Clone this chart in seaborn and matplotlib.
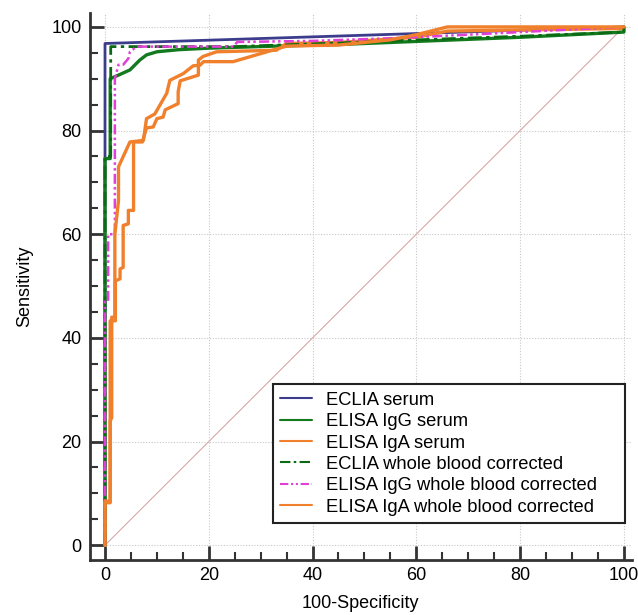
import numpy as np
import pandas as pd
import matplotlib
matplotlib.use("Agg")
import matplotlib.pyplot as plt
import seaborn as sns
from matplotlib.ticker import MultipleLocator

# ---- data ----
labels = ["ECLIA serum", "ELISA IgG serum", "ELISA IgA serum",
          "ECLIA whole blood corrected", "ELISA IgG whole blood corrected",
          "ELISA IgA whole blood corrected"]

eclia_serum_x = [0, 0, 100]
eclia_serum_y = [0, 96.8, 100]

igg_serum_x = [0, 0, 1.0, 1.0, 2.6, 4.8, 6.7, 8.0, 10.0, 14.1, 20, 33, 45, 60, 80, 100, 100]
igg_serum_y = [0, 74.6, 74.6, 90.0, 90.7, 91.7, 93.6, 94.6, 95.2, 95.6, 95.9, 96.3, 96.6, 97.2, 98.0, 99.0, 100]

iga_serum_x = [0, 0, 1.0, 1.0, 2.0, 2.0, 2.9, 2.9, 3.5, 3.5, 4.5, 4.5, 5.5, 5.5, 7.2, 8.0, 9.3,
               10.0, 11.2, 11.6, 14.1, 14.1, 14.5, 18.0, 18.0, 18.9, 21.5, 33, 35, 45, 60, 66, 100]
iga_serum_y = [0, 8.2, 8.2, 43.3, 43.3, 51.0, 51.4, 53.3, 53.6, 61.7, 62.0, 64.6, 64.6, 77.8, 77.8,
               80.5, 80.7, 82.3, 82.6, 84.0, 85.2, 87.5, 89.6, 90.7, 93.6, 94.3, 95.2, 95.5, 96.8,
               97.0, 98.0, 99.2, 99.7]

eclia_wb_x = [0, 0, 1.1, 1.1, 25, 45, 60, 80, 100, 100]
eclia_wb_y = [0, 75.0, 75.0, 96.2, 96.2, 96.9, 97.5, 98.2, 99.0, 100]

igg_wb_x = [0, 0, 0.6, 0.6, 1.9, 1.9, 2.6, 3.5, 4.5, 4.8, 6.1, 24.7, 25.5, 40, 55, 70, 100]
igg_wb_y = [0, 47.0, 47.0, 60.0, 60.0, 90.0, 92.7, 92.7, 93.9, 95.2, 96.2, 96.2, 97.1, 97.3, 97.8, 98.5, 100]

iga_wb_x = [0, 0, 1.0, 1.0, 1.3, 1.3, 1.9, 1.9, 2.6, 2.6, 4.8, 7.4, 8.0, 9.6, 11.9, 12.5, 15.1,
            17.0, 18.3, 19.0, 24.7, 35, 45, 55, 60, 66, 100]
iga_wb_y = [0, 8.5, 8.5, 24.0, 24.6, 44.0, 44.0, 60.0, 66.5, 73.0, 77.8, 78.1, 82.3, 83.2, 87.2,
            89.7, 91.0, 92.5, 92.6, 93.3, 93.3, 96.3, 96.5, 97.5, 98.5, 100, 100]

series_x = [eclia_serum_x, igg_serum_x, iga_serum_x, eclia_wb_x, igg_wb_x, iga_wb_x]
series_y = [eclia_serum_y, igg_serum_y, iga_serum_y, eclia_wb_y, igg_wb_y, iga_wb_y]

colors = ["#3c3c8c", "#137a1e", "#f0802c", "#0b6a14", "#e040d8", "#f0802c"]
widths = [2.0, 2.4, 2.4, 2.0, 1.8, 2.4]
dashes = [None, None, None, (5, 1.6, 1.2, 1.6), (4, 1.3, 1, 1.3, 1, 1.3), None]

diag = [0, 100]

# ---- figure ----
sns.set_style("white")
plt.rcParams['font.family'] = ['Liberation Sans', 'DejaVu Sans']

fig = plt.figure(figsize=(6.38, 6.15), dpi=100)
ax = fig.add_axes([0.141, 0.089, 0.849, 0.890])

# diagonal reference line
sns.lineplot(x=diag, y=diag, ax=ax, color="#d8a8a8", linewidth=0.8, sort=False,
             estimator=None, legend=False)

for xs, ys, lab, c, w, d in zip(series_x, series_y, labels, colors, widths, dashes):
    df = pd.DataFrame({"x": xs, "y": ys})
    sns.lineplot(data=df, x="x", y="y", ax=ax, color=c, linewidth=w, sort=False,
                 estimator=None, label=lab)
    if d is not None:
        ax.lines[-1].set_dashes(d)

ax.set_xlim(-2.9, 101.5)
ax.set_ylim(-2.9, 102.7)

ax.xaxis.set_major_locator(MultipleLocator(20))
ax.xaxis.set_minor_locator(MultipleLocator(5))
ax.yaxis.set_major_locator(MultipleLocator(20))
ax.yaxis.set_minor_locator(MultipleLocator(5))

ax.grid(True, which="major", color="#c8c8c8", linestyle=(0, (1, 1.5)), linewidth=0.8)
ax.set_axisbelow(True)

for s in ["top", "right"]:
    ax.spines[s].set_visible(False)
for s in ["left", "bottom"]:
    ax.spines[s].set_color("#333333")
    ax.spines[s].set_linewidth(2.0)

ax.tick_params(which="major", direction="in", length=10, width=2.0, color="#333333",
               labelsize=13, labelcolor="black", bottom=True, left=True)
ax.tick_params(axis="y", which="major", pad=6)
ax.tick_params(axis="x", which="major", pad=5)
ax.tick_params(which="minor", direction="in", length=6, width=1.5, color="#333333",
               bottom=True, left=True)

ax.set_xlabel("100-Specificity", fontsize=13, labelpad=8, color="black")
ax.set_ylabel("Sensitivity", fontsize=13, labelpad=13, color="black")

leg = ax.legend(loc="lower left", bbox_to_anchor=(0.338, 0.068, 0.650, 0.256),
                mode="expand", fontsize=13.2,
                frameon=True, fancybox=False, edgecolor="#222222", framealpha=1,
                handlelength=1.75, handletextpad=0.75, labelspacing=0.24,
                borderpad=0.4, borderaxespad=0)
leg.get_frame().set_linewidth(1.5)
for line in leg.get_lines():
    line.set_linewidth(1.5)
for t in leg.get_texts():
    t.set_color("black")

fig.savefig("out.png", dpi=100)
